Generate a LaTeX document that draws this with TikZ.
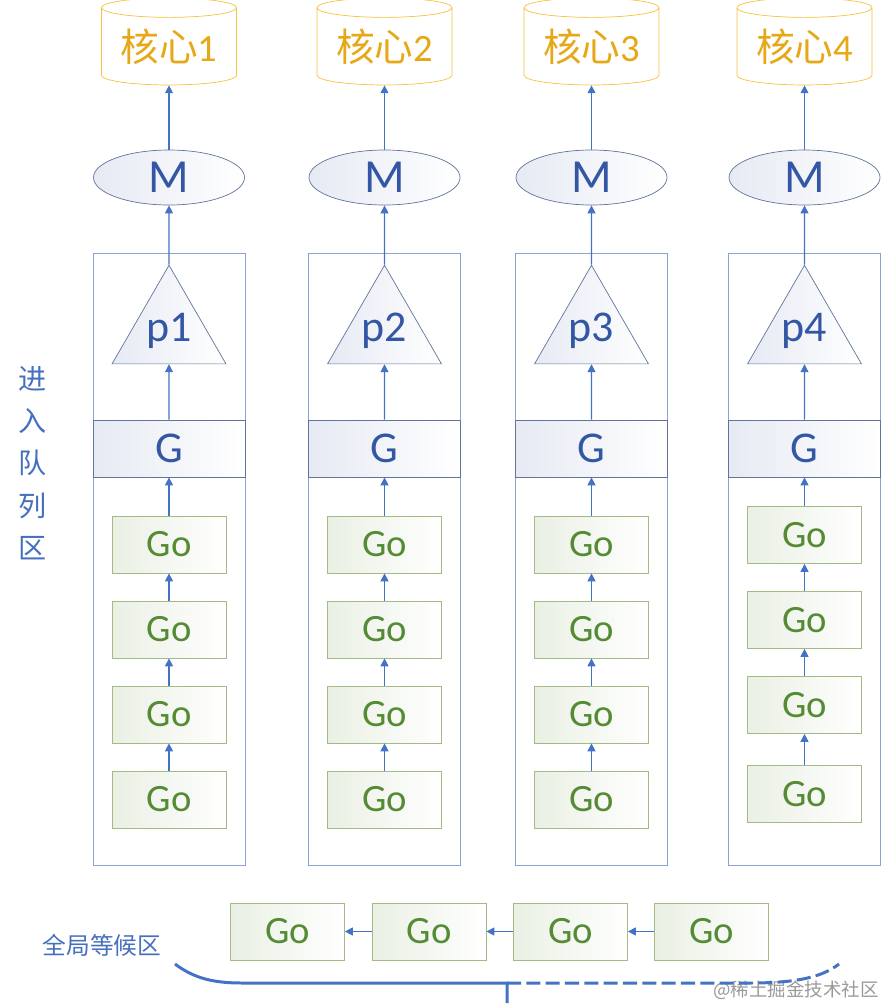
\documentclass[tikz,border=0pt]{standalone}
\usepackage{fontspec}
\setmainfont{Carlito}
\newfontfamily\cjk{Noto Sans CJK SC}
\usepackage{tikz}
\usetikzlibrary{arrows.meta,shapes.geometric}
\definecolor{coreline}{HTML}{F5C242}
\definecolor{coretext}{HTML}{E6A817}
\definecolor{dblue}{HTML}{3357A5}
\definecolor{lblue}{HTML}{4570BD}
\definecolor{mline}{HTML}{60749C}
\definecolor{mfill}{HTML}{E6EAF3}
\definecolor{boxline}{HTML}{8AA3D0}
\definecolor{goline}{HTML}{A2BB84}
\definecolor{gofill}{HTML}{EAF0E4}
\definecolor{gotext}{HTML}{558B35}
\definecolor{arrowblue}{HTML}{4472C4}

\begin{document}
\begin{tikzpicture}
\tikzstyle{core}=[cylinder,shape border rotate=90,aspect=0.2,draw=coreline,minimum width=2.7cm,minimum height=1.74cm,inner sep=0pt,text=coretext,font=\fontsize{22}{24}\selectfont]
\tikzstyle{mach}=[ellipse,draw=mline,left color=mfill,right color=white,minimum width=3.02cm,minimum height=1.1cm,inner sep=0pt,text=dblue,font=\fontsize{27}{29}\selectfont]
\tikzstyle{proc}=[regular polygon,regular polygon sides=3,draw=mline,left color=mfill,right color=white,minimum size=2.63cm,inner sep=0pt,text=dblue,font=\fontsize{25}{27}\selectfont]
\tikzstyle{queue}=[rectangle,draw=boxline,minimum width=3.04cm,minimum height=12.24cm]
\tikzstyle{gband}=[rectangle,draw=mline,left color=mfill,right color=white,minimum width=3.04cm,minimum height=1.14cm,text=dblue,font=\fontsize{25}{27}\selectfont]
\tikzstyle{gobox}=[rectangle,draw=goline,left color=gofill,right color=white,minimum width=2.28cm,minimum height=1.14cm,text=gotext,font=\fontsize{22}{24}\selectfont]
\tikzstyle{link}=[draw=arrowblue,line width=0.6pt,-{Triangle[length=4.5pt,width=4.5pt]}]
\useasboundingbox (0,0) rectangle (17.64,-20.12);
% column 1
\node[queue] (q1) at (3.38,-11.18) {};
\node[core] (c1) at (3.38,-0.93) {{\cjk 核心}1};
\node[mach] (m1) at (3.38,-3.55) {M};
\node[proc] (p1) at (3.38,-6.62) {p1};
\node[gband] (g1) at (3.38,-8.97) {G};
\node[gobox] (go11) at (3.38,-10.89) {Go};
\node[gobox] (go12) at (3.38,-12.59) {Go};
\node[gobox] (go13) at (3.38,-14.29) {Go};
\node[gobox] (go14) at (3.38,-15.99) {Go};
% column 2
\node[queue] (q2) at (7.69,-11.18) {};
\node[core] (c2) at (7.69,-0.93) {{\cjk 核心}2};
\node[mach] (m2) at (7.69,-3.55) {M};
\node[proc] (p2) at (7.69,-6.62) {p2};
\node[gband] (g2) at (7.69,-8.97) {G};
\node[gobox] (go21) at (7.69,-10.89) {Go};
\node[gobox] (go22) at (7.69,-12.59) {Go};
\node[gobox] (go23) at (7.69,-14.29) {Go};
\node[gobox] (go24) at (7.69,-15.99) {Go};
% column 3
\node[queue] (q3) at (11.83,-11.18) {};
\node[core] (c3) at (11.83,-0.93) {{\cjk 核心}3};
\node[mach] (m3) at (11.83,-3.55) {M};
\node[proc] (p3) at (11.83,-6.62) {p3};
\node[gband] (g3) at (11.83,-8.97) {G};
\node[gobox] (go31) at (11.83,-10.89) {Go};
\node[gobox] (go32) at (11.83,-12.59) {Go};
\node[gobox] (go33) at (11.83,-14.29) {Go};
\node[gobox] (go34) at (11.83,-15.99) {Go};
% column 4
\node[queue] (q4) at (16.09,-11.18) {};
\node[core] (c4) at (16.09,-0.93) {{\cjk 核心}4};
\node[mach] (m4) at (16.09,-3.55) {M};
\node[proc] (p4) at (16.09,-6.62) {p4};
\node[gband] (g4) at (16.09,-8.97) {G};
\node[gobox] (go41) at (16.09,-10.70) {Go};
\node[gobox] (go42) at (16.09,-12.40) {Go};
\node[gobox] (go43) at (16.09,-14.10) {Go};
\node[gobox] (go44) at (16.09,-15.88) {Go};
% global queue
\node[gobox] (w1) at (5.75,-18.63) {Go};
\node[gobox] (w2) at (8.58,-18.63) {Go};
\node[gobox] (w3) at (11.41,-18.63) {Go};
\node[gobox] (w4) at (14.23,-18.63) {Go};
% labels
\node[text=lblue,align=center,font=\cjk\fontsize{16}{24.1}\selectfont] (enq) at (0.66,-9.26) {进\\入\\队\\列\\区};
\node[text=lblue,font=\cjk\fontsize{13.5}{15}\selectfont] (glob) at (2.04,-18.9) {全局等候区};
\node[text=black!40,font=\cjk\fontsize{10.5}{12}\selectfont] (mark) at (15.92,-19.8) {@稀土掘金技术社区};
% arrows
\draw[link] (go14) -- (go13);
\draw[link] (go13) -- (go12);
\draw[link] (go12) -- (go11);
\draw[link] (go11) -- (g1);
\draw[link] (g1) -- (p1.south);
\draw[link] (p1.north) -- (m1);
\draw[link] (m1) -- (c1.south);
\draw[link] (go24) -- (go23);
\draw[link] (go23) -- (go22);
\draw[link] (go22) -- (go21);
\draw[link] (go21) -- (g2);
\draw[link] (g2) -- (p2.south);
\draw[link] (p2.north) -- (m2);
\draw[link] (m2) -- (c2.south);
\draw[link] (go34) -- (go33);
\draw[link] (go33) -- (go32);
\draw[link] (go32) -- (go31);
\draw[link] (go31) -- (g3);
\draw[link] (g3) -- (p3.south);
\draw[link] (p3.north) -- (m3);
\draw[link] (m3) -- (c3.south);
\draw[link] (go44) -- (go43);
\draw[link] (go43) -- (go42);
\draw[link] (go42) -- (go41);
\draw[link] (go41) -- (g4);
\draw[link] (g4) -- (p4.south);
\draw[link] (p4.north) -- (m4);
\draw[link] (m4) -- (c4.south);
\draw[link] (w4) -- (w3);
\draw[link] (w3) -- (w2);
\draw[link] (w2) -- (w1);
% bracket under the global queue
\draw[arrowblue,line width=1.7pt] (3.5,-19.28) .. controls (3.9,-19.58) and (4.3,-19.66) .. (4.84,-19.66) -- (10.14,-19.66) -- (10.14,-20.06);
\draw[arrowblue,line width=1.7pt,dash pattern=on 8pt off 3pt] (10.14,-19.66) -- (14.98,-19.66) .. controls (15.8,-19.66) and (16.4,-19.58) .. (16.78,-19.28);
\end{tikzpicture}
\end{document}
